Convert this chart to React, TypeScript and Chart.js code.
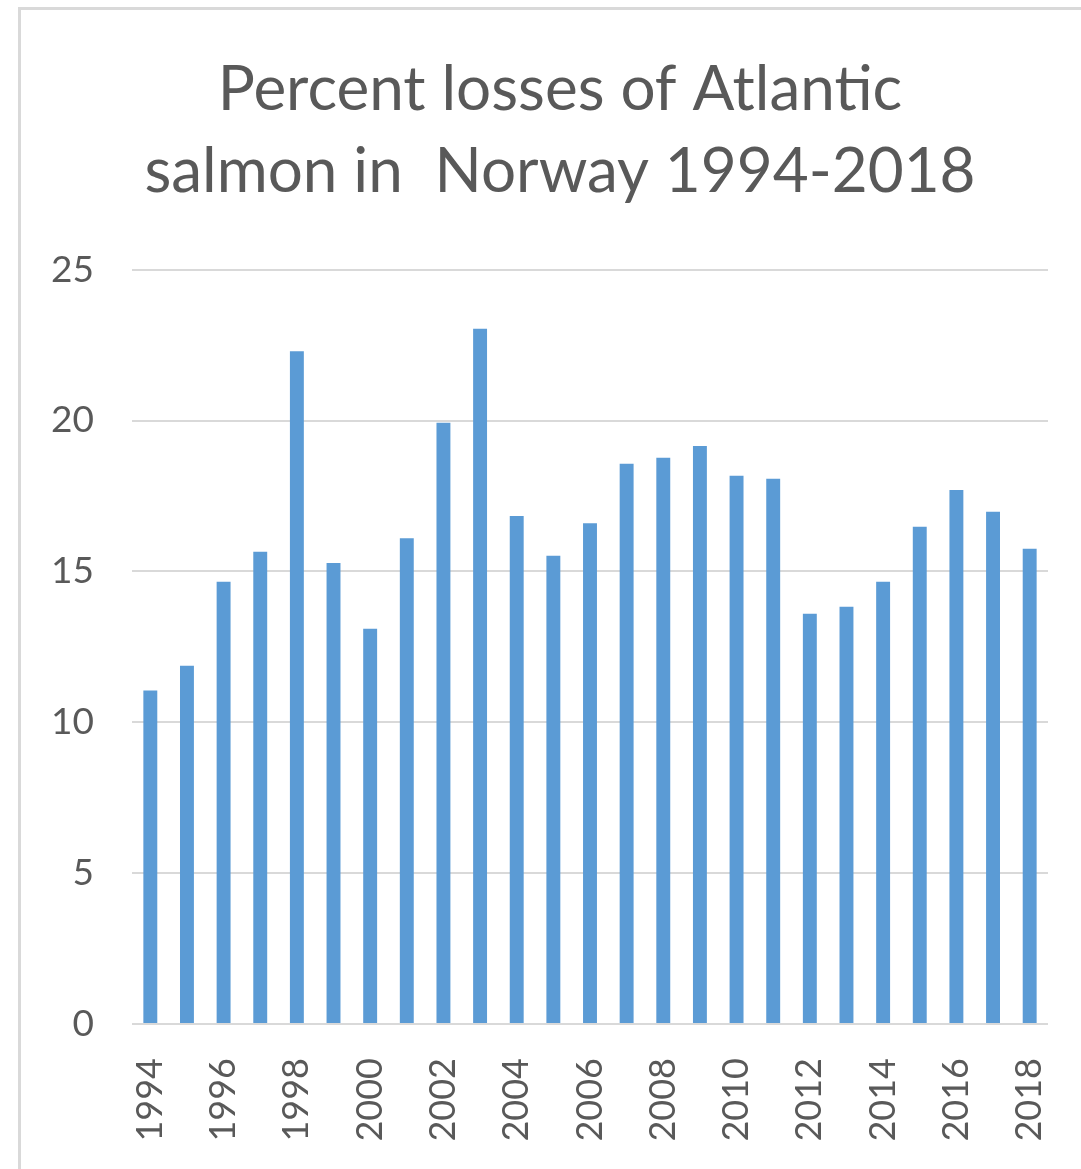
import React, { useEffect, useRef } from "react";
import { Chart, registerables } from "chart.js";

Chart.register(...registerables);

const years: string[] = [
  "1994", "1995", "1996", "1997", "1998", "1999", "2000", "2001", "2002", "2003",
  "2004", "2005", "2006", "2007", "2008", "2009", "2010", "2011", "2012", "2013",
  "2014", "2015", "2016", "2017", "2018",
];

const lossPercent: number[] = [
  11.05, 11.87, 14.66, 15.65, 22.3, 15.28, 13.1, 16.1, 19.93, 23.04,
  16.84, 15.52, 16.6, 18.57, 18.77, 19.16, 18.17, 18.07, 13.6, 13.83,
  14.66, 16.48, 17.7, 16.98, 15.75,
];

const titleLines: string[] = ["Percent losses of Atlantic", "salmon in  Norway 1994-2018"];

export default function App() {
  const canvasRef = useRef<HTMLCanvasElement | null>(null);

  useEffect(() => {
    if (!canvasRef.current) return;
    const chart = new Chart(canvasRef.current, {
      type: "bar",
      data: {
        labels: years,
        datasets: [
          {
            data: lossPercent,
            backgroundColor: "#5B9BD5",
            borderWidth: 0,
            barPercentage: 0.76,
            categoryPercentage: 0.5,
          },
        ],
      },
      options: {
        animation: false,
        responsive: false,
        maintainAspectRatio: false,
        devicePixelRatio: 1,
        layout: { padding: { top: 8, left: 40, right: 1, bottom: 0 } },
        plugins: {
          legend: { display: false },
          tooltip: { enabled: false },
          title: {
            display: true,
            text: titleLines,
            color: "#595959",
            font: { family: "Lato", size: 62, weight: "normal", lineHeight: 1.32 },
            padding: { top: 41, bottom: 57 },
          },
        },
        scales: {
          x: {
            offset: true,
            grid: { display: false, drawTicks: false },
            border: { display: false },
            afterFit: (s: any) => {
              s.height = 145;
              s.paddingLeft = 0;
              s.paddingRight = 33;
            },
            ticks: {
              autoSkip: false,
              minRotation: 90,
              maxRotation: 90,
              padding: 34,
              color: "#595959",
              font: { family: "Lato", size: 36 },
              callback: (_v: any, i: number) => (i % 2 === 0 ? years[i] : ""),
            },
          },
          y: {
            min: 0,
            max: 25,
            border: { display: false },
            grid: { color: "#d9d9d9", lineWidth: 2, drawTicks: false },
            afterFit: (s: any) => {
              s.width = 92;
            },
            ticks: {
              stepSize: 5,
              padding: 38,
              color: "#595959",
              font: { family: "Lato", size: 37 },
            },
          },
        },
      },
    });
    return () => chart.destroy();
  }, []);

  return (
    <div style={{ position: "absolute", left: 0, top: 0, width: 1081, height: 1169, background: "#fff", overflow: "hidden" }}>
      <div
        style={{
          position: "absolute",
          left: 18,
          top: 7,
          width: 1100,
          height: 1200,
          borderLeft: "3px solid #d9d9d9",
          borderTop: "3px solid #d9d9d9",
          boxSizing: "border-box",
        }}
      />
      <canvas ref={canvasRef} width={1081} height={1169} style={{ position: "absolute", left: 0, top: 0 }} />
    </div>
  );
}
